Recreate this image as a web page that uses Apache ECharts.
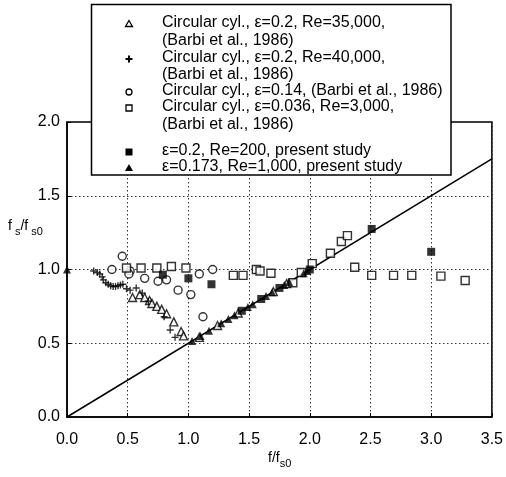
<!DOCTYPE html>
<html><head><meta charset="utf-8">
<script src="https://cdn.jsdelivr.net/npm/echarts@6/dist/echarts.min.js"></script>
<style>html,body{margin:0;padding:0;background:#fff}#c{width:506px;height:477px}</style>
</head><body><div id="c"></div>
<script>
// Data (x = f/fs0, y = fs/fs0)
const triOpen35k = [[0.54,0.81],[0.60,0.83],[0.64,0.81],[0.68,0.79],[0.70,0.77],[0.74,0.75],[0.78,0.73],[0.82,0.70],[0.88,0.645],[0.94,0.58],[0.96,0.55],[1.09,0.54],[1.24,0.62],[1.41,0.705],[1.70,0.85],[1.81,0.905]];
const plus40k = [[0.22,0.99],[0.25,0.98],[0.27,0.97],[0.29,0.95],[0.30,0.93],[0.32,0.91],[0.34,0.90],[0.36,0.89],[0.38,0.885],[0.40,0.885],[0.42,0.89],[0.44,0.895],[0.46,0.90],[0.49,0.87],[0.52,0.86],[0.57,0.875],[0.62,0.84],[0.67,0.785],[0.80,0.68],[0.85,0.59],[0.89,0.54]];
const circ014 = [[0.37,1.0],[0.455,1.09],[0.52,0.99],[0.51,0.97],[0.64,0.94],[0.75,0.92],[0.82,0.93],[0.915,0.86],[1.02,0.83],[1.09,0.97],[1.20,1.0],[1.12,0.68]];
const sq0036 = [[0.49,1.01],[0.61,1.01],[0.74,1.01],[0.86,1.02],[0.98,1.01],[1.37,0.96],[1.45,0.96],[1.56,1.0],[1.59,0.99],[1.68,0.975],[1.86,0.91],[1.93,0.98],[2.02,1.04],[2.17,1.11],[2.26,1.19],[2.31,1.23],[2.37,1.015],[2.51,0.96],[2.69,0.96],[2.84,0.96],[3.08,0.955],[3.28,0.925]];
const sqFilled200 = [[0.79,0.965],[1.0,0.94],[1.19,0.90],[1.44,0.72],[1.60,0.80],[1.75,0.875],[2.0,1.0],[2.51,1.275],[3.0,1.12]];
const triFilled1000 = [[0,1.0],[1.03,0.515],[1.10,0.55],[1.17,0.585],[1.27,0.635],[1.33,0.665],[1.38,0.69],[1.49,0.745],[1.53,0.765],[1.64,0.82],[1.69,0.845],[1.79,0.895],[1.83,0.915],[1.95,0.975],[1.98,0.99]];
const refLine = [[0,0],[3.5,1.75]];
const xTicks = [0,0.5,1.0,1.5,2.0,2.5,3.0,3.5];
const yTicks = [0,0.5,1.0,1.5,2.0];
const legendLines = [
  'Circular cyl., \u03b5=0.2, Re=35,000,',
  '(Barbi et al., 1986)',
  'Circular cyl., \u03b5=0.2, Re=40,000,',
  '(Barbi et al., 1986)',
  'Circular cyl., \u03b5=0.14, (Barbi et al., 1986)',
  'Circular cyl., \u03b5=0.036, Re=3,000,',
  '(Barbi et al., 1986)',
  '\u03b5=0.2, Re=200, present study',
  '\u03b5=0.173, Re=1,000, present study'
];

const FONT = '"Liberation Sans", Arial, sans-serif';
const plusPath = 'path://M4,0H6V4H10V6H6V10H4V6H0V4H4Z';
const openStyle = {color:'#fff', borderColor:'#000', borderWidth:1.4};
const filledStyle = {color:'#000'};

const chart = echarts.init(document.getElementById('c'), null, {renderer:'canvas'});

const legendTop = [24, 42, 59, 76, 92, 108, 126, 152, 168];
const graphic = [
  {type:'rect', z:50, shape:{x:91.5, y:4.5, width:359.5, height:170.5}, style:{fill:'#fff', stroke:'#000', lineWidth:1.5}}
];
legendLines.forEach((t,i)=>{
  graphic.push({type:'text', z:51, left:162, top:legendTop[i]-9, style:{text:t, font:'16px '+FONT, fill:'#000'}});
});
const mx = 129;
graphic.push({type:'polygon', z:52, shape:{points:[[mx,legendTop[0]-3.5],[mx+3.5,legendTop[0]+2.5],[mx-3.5,legendTop[0]+2.5]]}, style:{fill:'#fff', stroke:'#000', lineWidth:1.3}});
graphic.push({type:'rect', z:52, shape:{x:mx-3.5, y:legendTop[2]-1, width:7, height:2}, style:{fill:'#000'}});
graphic.push({type:'rect', z:52, shape:{x:mx-1, y:legendTop[2]-3.5, width:2, height:7}, style:{fill:'#000'}});
graphic.push({type:'circle', z:52, shape:{cx:mx, cy:legendTop[4], r:3}, style:{fill:'#fff', stroke:'#000', lineWidth:1.3}});
graphic.push({type:'rect', z:52, shape:{x:mx-3, y:legendTop[5]-3, width:6, height:6}, style:{fill:'#fff', stroke:'#000', lineWidth:1.3}});
graphic.push({type:'rect', z:52, shape:{x:mx-3.5, y:legendTop[7]-3.5, width:7, height:7}, style:{fill:'#000'}});
graphic.push({type:'polygon', z:52, shape:{points:[[mx,legendTop[8]-4],[mx+4,legendTop[8]+3],[mx-4,legendTop[8]+3]]}, style:{fill:'#000'}});
// axis titles
graphic.push({type:'text', z:10, left:8, top:219, style:{rich:{m:{font:'14px '+FONT, fill:'#000'}, s:{font:'11px '+FONT, fill:'#000', padding:[12,0,0,0]}}, text:'{m|f}{s| s}{m|/f}{s| s0}'}});
graphic.push({type:'text', z:10, left:268, top:451, style:{rich:{m:{font:'14px '+FONT, fill:'#000'}, s:{font:'11px '+FONT, fill:'#000', padding:[12,0,0,0]}}, text:'{m|f/f}{s|s0}'}});

const option = {
  animation:false,
  grid:{left:67, right:14, top:122, bottom:60, show:true, borderColor:'#000', borderWidth:1.5, backgroundColor:'transparent'},
  xAxis:{type:'value', min:0, max:3.5, interval:0.5,
    axisLine:{lineStyle:{color:'#000', width:1.5}},
    axisTick:{inside:true, length:4, lineStyle:{color:'#000'}},
    splitLine:{show:true, lineStyle:{color:'#333', width:1, type:[1.5,2.5]}},
    axisLabel:{color:'#000', fontFamily:FONT, fontSize:16, margin:15, formatter:v=>v.toFixed(1)}
  },
  yAxis:{type:'value', min:0, max:2, interval:0.5,
    axisLine:{show:true, lineStyle:{color:'#000', width:1.5}},
    axisTick:{show:true, inside:true, length:4, lineStyle:{color:'#000'}},
    splitLine:{show:true, lineStyle:{color:'#333', width:1, type:[1.5,2.5]}},
    axisLabel:{color:'#000', fontFamily:FONT, fontSize:16, margin:7, formatter:v=>v.toFixed(1)}
  },
  graphic:graphic,
  series:[
    {type:'line', data:refLine, symbol:'none', lineStyle:{color:'#000', width:1.5}, z:3},
    {type:'scatter', data:triOpen35k, symbol:'triangle', symbolSize:8, itemStyle:openStyle, z:5},
    {type:'scatter', data:plus40k, symbol:plusPath, symbolSize:7, itemStyle:filledStyle, z:5},
    {type:'scatter', data:circ014, symbol:'circle', symbolSize:8, itemStyle:openStyle, z:5},
    {type:'scatter', data:sq0036, symbol:'rect', symbolSize:8, itemStyle:openStyle, z:5},
    {type:'scatter', data:sqFilled200, symbol:'rect', symbolSize:8, itemStyle:filledStyle, z:6},
    {type:'scatter', data:triFilled1000, symbol:'triangle', symbolSize:8, itemStyle:filledStyle, z:6}
  ]
};
chart.setOption(option);
</script></body></html>
